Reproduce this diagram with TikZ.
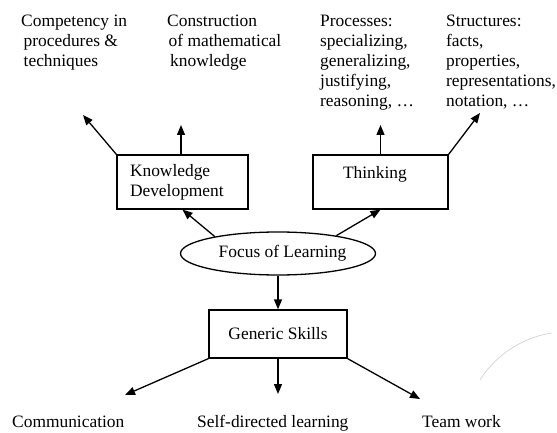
\documentclass[tikz,border=0pt]{standalone}
\usepackage{fontspec}
\setmainfont{Liberation Serif}
\usetikzlibrary{arrows.meta,shapes.geometric}
\begin{document}
\begin{tikzpicture}[x=1pt,y=-1pt,
  every node/.style={font=\fontsize{17.4}{20}\selectfont},
  lbl/.style={anchor=north west,inner sep=0pt,align=left},
  boxnode/.style={draw,line width=1.3pt,rectangle},
  arr/.style={line width=1.3pt,-{Triangle[length=10pt,width=8pt]}},
  artifact/.style={draw=gray!35,line width=0.7pt}]
\useasboundingbox (0,0) rectangle (557,433);
% top labels
\node[lbl] (comp) at (21,12.5) {\strut Competency in\\\hspace*{2.5pt}procedures \&\\\hspace*{2.5pt}techniques};
\node[lbl] (cons) at (167,12.5) {\strut Construction\\\hspace*{1.5pt}of mathematical\\\hspace*{3pt}knowledge};
\node[lbl] (proc) at (320,12.5) {\strut Processes:\\specializing,\\generalizing,\\justifying,\\reasoning, …};
\node[lbl] (struc) at (446,12.5) {\strut Structures:\\facts,\\properties,\\representations,\\notation, …};
% boxes
\node[boxnode,minimum width=131pt,minimum height=54pt,text width=105pt,inner xsep=13pt,align=left] (kd) at (182.5,182) {Knowledge\\Development};
\node[boxnode,minimum width=135pt,minimum height=54pt,text width=75pt,inner xsep=30pt,align=left] (th) at (380.5,182) {Thinking\\\mbox{}};
\node[draw,ellipse,line width=1.3pt,minimum width=195pt,minimum height=43pt,inner sep=0pt] (foc) at (278,253.5) {\hspace*{9pt}Focus of Learning};
\node[boxnode,minimum width=138pt,minimum height=48pt] (gs) at (278,334) {Generic Skills};
% bottom labels
\node[anchor=base west,inner sep=0pt] (comm) at (12,427.5) {Communication};
\node[anchor=base west,inner sep=0pt] (sdl) at (197,427.5) {Self-directed learning};
\node[anchor=base west,inner sep=0pt] (tw) at (422,427.5) {Team work};
% tip coordinates
\coordinate (t1) at (83,115);
\coordinate (t2) at (181,125);
\coordinate (t3) at (380.5,125);
\coordinate (t4) at (480,113);
\coordinate (b1) at (125,395);
\coordinate (b2) at (278,394);
\coordinate (b3) at (420,399);
% connectors
\draw[arr] (kd.north west) -- (t1);
\draw[arr] (kd.north -| t2) -- (t2);
\draw[arr] (th.north) -- (t3);
\draw[arr] (th.north east) -- (t4);
\draw[arr] (foc.165) -- (kd.south);
\draw[arr] (foc.17) -- (th.south);
\draw[arr] (foc.south) -- (gs.north);
\draw[arr] (gs.south west) -- (b1);
\draw[arr] (gs.south) -- (b2);
\draw[arr] (gs.south east) -- (b3);
% faint arc
\draw[artifact] (480,380) .. controls (492,360) and (518,338) .. (552,333);
\end{tikzpicture}
\end{document}
